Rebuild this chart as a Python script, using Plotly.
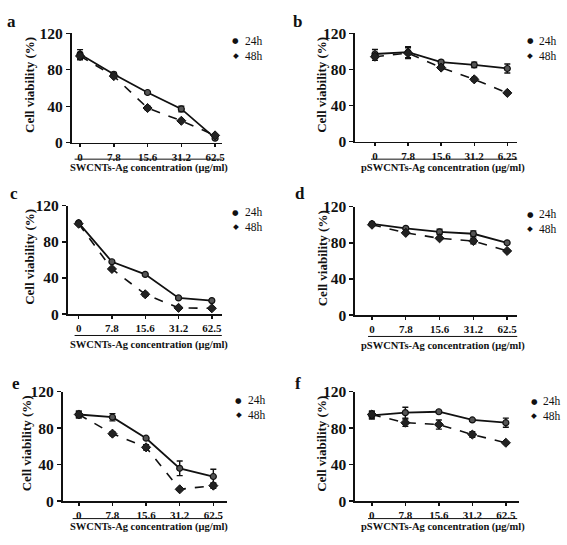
import plotly.graph_objects as go

W, H = 567, 545

# ---- data ----
cats_std = ["0", "7.8", "15.6", "31.2", "62.5"]
cats_b = ["0", "7.8", "15.6", "31.2", "6.25"]
yticks = [0, 40, 80, 120]
series_names = ["24h", "48h"]
xtitle_s = "SWCNTs-Ag concentration (μg/ml)"
xtitle_p = "pSWCNTs-Ag concentration (μg/ml)"
ytitle = "Cell viability (%)"

a24 = [97, 75, 55, 37, 5];   a24_err = [5, 2, 1, 3, 1]
a48 = [95, 73, 38, 24, 8];   a48_err = [4, 1, 2, 1, 1]
b24 = [97, 99, 88, 85, 81];  b24_err = [5, 6, 2, 3, 5]
b48 = [94, 98, 82, 69, 54];  b48_err = [4, 6, 2, 2, 1]
c24 = [101, 58, 44, 18, 15]; c24_err = [1, 1, 1, 1, 1]
c48 = [100, 50, 22, 7, 6.5]; c48_err = [1, 1, 2, 1, 1]
d24 = [101, 96, 92, 90, 80]; d24_err = [1, 1, 3, 3, 1]
d48 = [100, 91, 85, 82, 71]; d48_err = [1, 1, 1, 3, 1]
e24 = [95, 92, 69, 36, 27];  e24_err = [4, 4, 1, 8, 8]
e48 = [95, 74, 59, 13, 17];  e48_err = [3, 2, 3, 1, 3]
f24 = [94, 97, 98, 89, 86];  f24_err = [4, 6, 1, 1, 5]
f48 = [95, 86, 84, 73, 64];  f48_err = [4, 4, 5, 3, 1]

# ---- layout geometry (pixels) ----
panels = [
    dict(letter="a", cats=cats_std, s24=a24, e24=a24_err, s48=a48, e48=a48_err, xt=xtitle_s,
         x0=72, x1=223, top=25, bot=138, xr=[-0.25, 4.2], ul=(75, 223, 155), tt=(150, 164),
         leg=(237, 33), lab=(5, 13), yt=29),
    dict(letter="b", cats=cats_b, s24=b24, e24=b24_err, s48=b48, e48=b48_err, xt=xtitle_p,
         x0=357, x1=520, top=25, bot=137, xr=[-0.6, 4.3], ul=(373, 520, 155), tt=(445, 164),
         leg=(533, 33), lab=(293, 13), yt=323),
    dict(letter="c", cats=cats_std, s24=c24, e24=c24_err, s48=c48, e48=c48_err, xt=xtitle_s,
         x0=68, x1=223, top=203, bot=315, xr=[-0.33, 4.3], ul=(75, 223, 337), tt=(150, 347),
         leg=(237, 210), lab=(8, 190), yt=29),
    dict(letter="d", cats=cats_std, s24=d24, e24=d24_err, s48=d48, e48=d48_err, xt=xtitle_p,
         x0=357, x1=520, top=204, bot=316, xr=[-0.5, 4.3], ul=(370, 520, 338), tt=(445, 348),
         leg=(533, 212), lab=(295, 190), yt=325),
    dict(letter="e", cats=cats_std, s24=e24, e24=e24_err, s48=e48, e48=e48_err, xt=xtitle_s,
         x0=63, x1=228, top=395, bot=508, xr=[-0.48, 4.4], ul=(73, 223, 526), tt=(150, 535),
         leg=(240, 404), lab=(10, 387), yt=27),
    dict(letter="f", cats=cats_std, s24=f24, e24=f24_err, s48=f48, e48=f48_err, xt=xtitle_p,
         x0=357, x1=522, top=395, bot=508, xr=[-0.5, 4.4], ul=(370, 520, 526), tt=(445, 535),
         leg=(537, 405), lab=(295, 387), yt=323),
]

FONT = "Liberation Serif"
BLACK = "#111111"
LEG_FS = 11.5
LEG_GAP = LEG_FS * 1.3

def px(x):
    return x / W

def py(y):
    return 1 - y / H

fig = go.Figure()
layout = dict(width=W, height=H, margin=dict(l=0, r=0, t=0, b=0), autosize=False,
              paper_bgcolor="white", plot_bgcolor="white", showlegend=False,
              font=dict(family=FONT, color=BLACK))
annotations = []
shapes = []

for i, p in enumerate(panels):
    k = "" if i == 0 else str(i + 1)
    xa, ya = "x" + k, "y" + k
    idx = list(range(len(p["cats"])))
    # 24h solid
    fig.add_trace(go.Scatter(
        x=idx, y=p["s24"], xaxis=xa, yaxis=ya, mode="lines+markers", name=series_names[0],
        line=dict(color=BLACK, width=1.8),
        marker=dict(symbol="circle", size=6, color="#555555", line=dict(color=BLACK, width=1.2)),
        error_y=dict(type="data", array=p["e24"], color=BLACK, thickness=1.4, width=3),
        cliponaxis=False))
    # 48h dashed
    fig.add_trace(go.Scatter(
        x=idx, y=p["s48"], xaxis=xa, yaxis=ya, mode="lines+markers", name=series_names[1],
        line=dict(color=BLACK, width=1.6, dash="dash"),
        marker=dict(symbol="diamond", size=7, color="#222222", line=dict(color=BLACK, width=1)),
        error_y=dict(type="data", array=p["e48"], color=BLACK, thickness=1.4, width=3),
        cliponaxis=False))

    layout["xaxis" + k] = dict(
        domain=[px(p["x0"]), px(p["x1"])], range=p["xr"], anchor=ya,
        tickmode="array", tickvals=idx, ticktext=p["cats"],
        showline=True, linecolor=BLACK, linewidth=1.7, ticks="outside", ticklen=3,
        tickwidth=1.4, tickcolor=BLACK, showgrid=False, zeroline=False,
        tickfont=dict(family=FONT, size=11, color=BLACK, weight="bold"), fixedrange=True)
    layout["yaxis" + k] = dict(
        domain=[py(p["bot"]), py(p["top"])], range=[0, 120], anchor=xa,
        tickmode="array", tickvals=yticks,
        showline=True, linecolor=BLACK, linewidth=1.7, ticks="outside", ticklen=4,
        tickwidth=1.4, tickcolor=BLACK, showgrid=False, zeroline=False,
        tickfont=dict(family=FONT, size=15.5, color=BLACK, weight="bold"), fixedrange=True)

    # y title
    annotations.append(dict(
        x=px(p["yt"]), y=py((p["top"] + p["bot"]) / 2 - 3), xref="paper", yref="paper",
        text=ytitle, textangle=-90, showarrow=False, xanchor="center", yanchor="middle",
        font=dict(family=FONT, size=13, color=BLACK, weight="bold")))
    # underline + x title
    ux0, ux1, uy = p["ul"]
    shapes.append(dict(type="line", xref="paper", yref="paper",
                       x0=px(ux0), x1=px(ux1), y0=py(uy), y1=py(uy),
                       line=dict(color=BLACK, width=1)))
    annotations.append(dict(
        x=px(p["tt"][0]), y=py(p["tt"][1]), xref="paper", yref="paper", text=p["xt"],
        showarrow=False, xanchor="center", yanchor="middle",
        font=dict(family=FONT, size=10.5, color=BLACK, weight="bold")))
    # panel letter
    annotations.append(dict(
        x=px(p["lab"][0]), y=py(p["lab"][1]), xref="paper", yref="paper", text=p["letter"],
        showarrow=False, xanchor="left", yanchor="middle",
        font=dict(family=FONT, size=17, color=BLACK, weight="bold")))
    # legend (glyphs + one text block)
    lx, ly = p["leg"]
    for j, glyph in enumerate(["●", "◆"]):
        annotations.append(dict(
            x=px(lx), y=py(ly + j * LEG_GAP), xref="paper", yref="paper", text=glyph,
            showarrow=False, xanchor="center", yanchor="middle",
            font=dict(family="DejaVu Sans", size=7.5, color=BLACK)))
    annotations.append(dict(
        x=px(lx + 7), y=py(ly + LEG_GAP / 2), xref="paper", yref="paper",
        text="<br>".join(series_names), align="left",
        showarrow=False, xanchor="left", yanchor="middle",
        font=dict(family=FONT, size=LEG_FS, color=BLACK)))

layout["annotations"] = annotations
layout["shapes"] = shapes
fig.update_layout(**layout)
fig.write_html("out.html", config={"displayModeBar": False, "staticPlot": True},
               post_script="document.body.style.margin='0';document.body.style.overflow='hidden';")
